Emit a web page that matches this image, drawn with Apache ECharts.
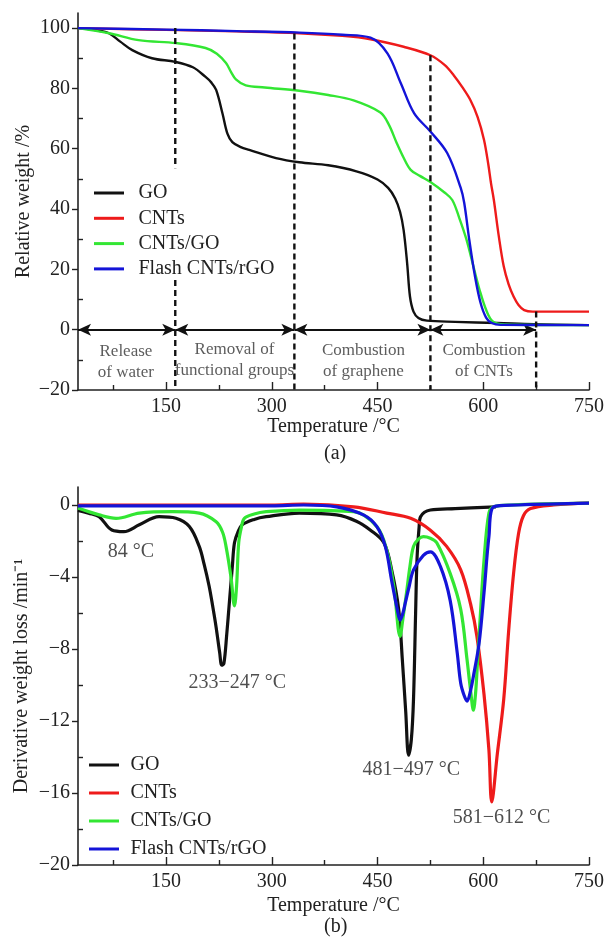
<!DOCTYPE html>
<html>
<head>
<meta charset="utf-8">
<script src="https://cdn.jsdelivr.net/npm/echarts@6/dist/echarts.min.js"></script>
<style>
html,body{margin:0;padding:0;background:#fff;}
#c{width:608px;height:938px;}
</style>
</head>
<body>
<div id="c"></div>
<script>
// ---------- Axis ticks ----------
const xMajor = [150, 300, 450, 600, 750];
const xMinor = [75, 225, 375, 525, 675];
const yMajorA = [-20, 0, 20, 40, 60, 80, 100];
const yMinorA = [-10, 10, 30, 50, 70, 90];
const yMajorB = [-20, -16, -12, -8, -4, 0];
const yMinorB = [-18, -14, -10, -6, -2];

const seriesNames = ['GO', 'CNTs', 'CNTs/GO', 'Flash CNTs/rGO'];

// ---------- (a) TGA ----------
const goT_a = [25, 40, 55, 69, 85, 102, 130, 163, 188, 206, 214, 221, 230, 237, 244, 256, 268, 306, 339, 380, 420, 450, 465, 475, 482, 487, 492, 496, 501, 508, 520, 560, 620, 672, 750];
const goW_a = [100, 99.7, 99.1, 98.3, 95.5, 92.7, 90, 88.8, 87, 83.8, 82, 79.5, 71.7, 65, 62.2, 60.5, 59.6, 56.9, 55.5, 54.5, 52.5, 49.8, 47, 43.5, 39, 33, 22, 11, 6, 3.9, 3, 2.6, 2.2, 1.8, 1.5];

const cntT_a = [25, 150, 250, 339, 400, 440, 487, 525, 545, 558, 570, 582, 592, 601, 607, 611, 615, 622, 629, 636, 643, 650, 658, 670, 750];
const cntW_a = [100, 99.4, 98.9, 98.3, 97.4, 96.3, 93.8, 91, 87.8, 84.4, 80.5, 76, 70.5, 63, 55, 48.5, 43, 31, 21, 15, 11, 8.2, 6.5, 6, 6];

const cgoT_a = [25, 69, 111, 164, 206, 222, 235, 242, 249, 263, 290, 339, 380, 416, 454, 466, 477, 487, 497, 510, 525, 545, 556, 566, 576, 586, 595, 605, 614, 630, 750];
const cgoW_a = [100, 98.3, 96, 95, 93.4, 91.5, 88.4, 85.5, 83, 81, 80.3, 79.2, 77.8, 76, 72, 68, 62, 57, 53, 51, 49, 45.5, 43, 37, 30, 21, 13, 6, 2.6, 1.7, 1.5];

const flT_a = [25, 150, 250, 339, 400, 440, 464, 483, 502, 525, 549, 568, 573, 580, 588, 596, 604, 612, 625, 750];
const flW_a = [100, 99.5, 99, 98.5, 97.8, 96.8, 91.6, 81.7, 71.7, 65.7, 58.5, 47, 42, 30, 18, 9, 4, 2.2, 1.6, 1.5];

// dashed dividers (a): x, top, bottom
const divT = [163, 163, 332, 525, 675];
const divTop = [100, 16.5, 98.2, 91, 6];
const divBot = [53.5, -20, -20, -20, -20];

// double arrows at 0 %
const arrowStart = [25, 163, 332, 525];
const arrowEnd = [163, 332, 525, 675];
const arrowLevel = 0;

// stage annotations
const annoT = [93, 247, 430, 601];
const annoW = [-10.7, -9.9, -10.4, -10.4];
const annoText = ['Release\nof water', 'Removal of\nfunctional groups', 'Combustion\nof graphene', 'Combustion\nof CNTs'];

// ---------- (b) DTG ----------
const goT_b = [25, 40, 55, 73, 90, 112, 140, 164, 183, 197, 204, 211, 216, 221, 226, 229, 232, 236, 240, 244, 247, 252, 258, 275, 292, 339, 392, 420, 440, 459, 470, 480, 485, 490, 494, 498, 501, 504, 506, 509, 511, 525, 560, 618];
const goD_b = [-0.3, -0.45, -0.65, -1.39, -1.48, -1.1, -0.65, -0.74, -1.2, -2.3, -3.3, -4.5, -5.6, -6.8, -8.2, -8.9, -8.8, -7.2, -5.3, -3.4, -2.1, -1.5, -1.1, -0.8, -0.65, -0.45, -0.55, -0.9, -1.4, -2.1, -3.6, -5.8, -8.5, -11.5, -13.9, -13.0, -10.8, -6, -3, -1.2, -0.65, -0.28, -0.2, -0.1];

const cntT_b = [25, 150, 300, 345, 416, 463, 497, 525, 548, 568, 582, 591, 601, 608, 612, 620, 629, 636, 643, 650, 657, 667, 700, 750];
const cntD_b = [0, 0, 0, 0.05, -0.1, -0.45, -0.74, -1.4, -2.3, -3.6, -5.5, -7.3, -10.5, -13.6, -16.5, -13.8, -10.8, -7, -3.8, -1.6, -0.6, -0.2, 0, 0.1];

const cgoT_b = [25, 55, 79, 112, 159, 197, 221, 230, 235, 242, 247, 250, 253, 257, 261, 275, 292, 339, 416, 449, 463, 473, 482, 486, 491, 496, 501, 508, 515, 525, 534, 553, 568, 577, 582, 586, 589, 592, 596, 601, 608, 615, 640, 750];
const cgoD_b = [-0.17, -0.55, -0.74, -0.45, -0.37, -0.45, -0.93, -1.5, -2.3, -4.0, -5.6, -4.5, -2.1, -1.2, -0.74, -0.5, -0.37, -0.28, -0.37, -1.2, -2.5, -4.5, -7.3, -6.3, -4.9, -3.4, -2.3, -1.9, -1.76, -1.85, -2.1, -3.8, -5.8, -8.6, -10.3, -11.4, -10.5, -8.6, -6, -3.1, -0.45, -0.1, 0, 0.1];

const flT_b = [25, 150, 300, 345, 392, 430, 449, 461, 470, 478, 482, 486, 489, 495, 501, 515, 525, 539, 553, 563, 568, 573, 577, 582, 587, 594, 601, 608, 615, 650, 750];
const flD_b = [-0.05, -0.05, -0.05, 0, -0.1, -0.55, -1.2, -2.3, -4.2, -5.8, -6.4, -6.0, -5.5, -4.5, -3.6, -2.8, -2.6, -3.4, -5.3, -8.2, -9.9, -10.6, -10.9, -10.3, -9.3, -7.7, -4.9, -1.76, -0.1, 0, 0.1];

// peak annotations
const peakT = [100, 251, 498, 626];
const peakD = [-2.6, -9.9, -14.7, -17.4];
const peakText = ['84 °C', '233\u2212247 °C', '481\u2212497 °C', '581\u2212612 °C'];

// ---------- build ----------
const FONT = 'Liberation Serif';
const TXT = '#222';
const colors = ['#111111', '#ee1b1b', '#33e633', '#1414d8'];
const pair = (xs, ys) => xs.map((x, i) => [x, ys[i]]);
const minus = v => String(v).replace('-', '\u2212');

function mainX(gi) {
  return {
    type: 'value', gridIndex: gi, min: 25, max: 750,
    axisLine: { show: true, onZero: false, lineStyle: { color: TXT, width: 1.6 } },
    axisTick: { show: true, inside: true, length: 8, customValues: xMajor, lineStyle: { color: TXT, width: 1.4 } },
    axisLabel: { customValues: xMajor, color: TXT, fontFamily: FONT, fontSize: 20, margin: 7 },
    splitLine: { show: false },
    name: 'Temperature /°C', nameLocation: 'middle', nameGap: gi === 0 ? 27 : 31,
    nameMoveOverlap: false,
    nameTextStyle: { color: TXT, fontFamily: FONT, fontSize: 20 }
  };
}
function minorX(gi) {
  return {
    type: 'value', gridIndex: gi, min: 25, max: 750, position: 'bottom',
    axisLine: { show: false, onZero: false },
    axisTick: { show: true, inside: true, length: 5, customValues: xMinor, lineStyle: { color: TXT, width: 1.4 } },
    axisLabel: { show: false }, splitLine: { show: false }
  };
}
function mainY(gi, min, max, major, name, gap) {
  return {
    type: 'value', gridIndex: gi, min: min, max: max,
    axisLine: { show: true, onZero: false, lineStyle: { color: TXT, width: 1.6 } },
    axisTick: { show: true, inside: false, length: 6, customValues: major, lineStyle: { color: TXT, width: 1.4 } },
    axisLabel: { customValues: major, color: TXT, fontFamily: FONT, fontSize: 20, margin: 8, formatter: minus },
    splitLine: { show: false },
    name: name, nameLocation: 'middle', nameGap: gap, nameRotate: 90,
    nameMoveOverlap: false,
    nameTextStyle: { color: TXT, fontFamily: FONT, fontSize: 20 }
  };
}
function minorY(gi, min, max, minor) {
  return {
    type: 'value', gridIndex: gi, min: min, max: max, position: 'left',
    axisLine: { show: false, onZero: false },
    axisTick: { show: true, inside: true, length: 5, customValues: minor, lineStyle: { color: TXT, width: 1.4 } },
    axisLabel: { show: false }, splitLine: { show: false }
  };
}

function curve(name, idx, data, xi, yi, w) {
  return {
    name: name, type: 'line', xAxisIndex: xi, yAxisIndex: yi, data: data,
    symbol: 'none', smooth: 0.35, z: 3 + idx,
    lineStyle: { color: colors[idx], width: w, join: 'round' }, itemStyle: { color: colors[idx] },
    silent: true
  };
}

const series = [];
const dataA = [pair(goT_a, goW_a), pair(cntT_a, cntW_a), pair(cgoT_a, cgoW_a), pair(flT_a, flW_a)];
const dataB = [pair(goT_b, goD_b), pair(cntT_b, cntD_b), pair(cgoT_b, cgoD_b), pair(flT_b, flD_b)];
seriesNames.forEach((n, i) => series.push(curve(n, i, dataA[i], 0, 0, 2.4)));
seriesNames.forEach((n, i) => series.push(curve(n, i, dataB[i], 2, 2, 3.2)));

// dividers
divT.forEach((t, i) => {
  series.push({
    type: 'line', xAxisIndex: 0, yAxisIndex: 0, symbol: 'none', silent: true, z: 8,
    data: [[t, divTop[i]], [t, divBot[i]]],
    lineStyle: { color: '#111', width: 2.4, type: [6, 4] }
  });
});
// arrows
series.push({
  type: 'line', xAxisIndex: 0, yAxisIndex: 0, data: [], silent: true,
  markLine: {
    silent: true, symbol: ['arrow', 'arrow'], symbolSize: [9, 13], animation: false,
    label: { show: false },
    lineStyle: { color: '#111', width: 1.8, type: 'solid' },
    emphasis: { disabled: true },
    data: arrowStart.map((s, i) => [{ coord: [s, arrowLevel] }, { coord: [arrowEnd[i], arrowLevel] }])
  }
});
// stage annotations
series.push({
  type: 'scatter', xAxisIndex: 0, yAxisIndex: 0, symbolSize: 0, silent: true, z: 9,
  data: annoT.map((t, i) => ({ value: [t, annoW[i]], name: annoText[i] })),
  label: { show: true, position: 'inside', formatter: '{b}', color: '#333', fontFamily: FONT, fontSize: 17, lineHeight: 21, align: 'center' }
});
// peak labels
series.push({
  type: 'scatter', xAxisIndex: 2, yAxisIndex: 2, symbolSize: 0, silent: true, z: 9,
  data: peakT.map((t, i) => ({ value: [t, peakD[i]], name: peakText[i] })),
  label: { show: true, position: 'inside', formatter: '{b}', color: TXT, fontFamily: FONT, fontSize: 20, align: 'center' }
});

const legendBase = {
  orient: 'vertical', data: seriesNames, icon: 'path://M0,0H10V1H0Z',
  itemHeight: 3,
  textStyle: { color: TXT, fontFamily: FONT, fontSize: 20, lineHeight: 20 },
  selectedMode: false
};

const option = {
  animation: false,
  backgroundColor: '#fff',
  grid: [
    { left: 78, right: 19, top: 13, bottom: 548 },
    { left: 78, right: 19, top: 487, bottom: 73 }
  ],
  xAxis: [mainX(0), minorX(0), mainX(1), minorX(1)],
  yAxis: [
    mainY(0, -20, 105, yMajorA, 'Relative weight /%', 44),
    minorY(0, -20, 105, yMinorA),
    mainY(1, -20, 1, yMajorB, 'Derivative weight loss /min\u207B\u00B9', 46),
    minorY(1, -20, 1, yMinorB)
  ],
  legend: [
    Object.assign({}, legendBase, { left: 89, top: 178, itemWidth: 49, itemGap: 5.3 }),
    Object.assign({}, legendBase, { left: 84, top: 750, itemWidth: 43, itemGap: 8 })
  ],
  graphic: [
    { type: 'text', left: 324, top: 444, style: { text: '(a)', font: '20px "Liberation Serif"', fill: TXT } },
    { type: 'text', left: 324, top: 917, style: { text: '(b)', font: '20px "Liberation Serif"', fill: TXT } }
  ],
  series: series
};

const chart = echarts.init(document.getElementById('c'), null, { renderer: 'canvas' });
chart.setOption(option);
</script>
</body>
</html>
